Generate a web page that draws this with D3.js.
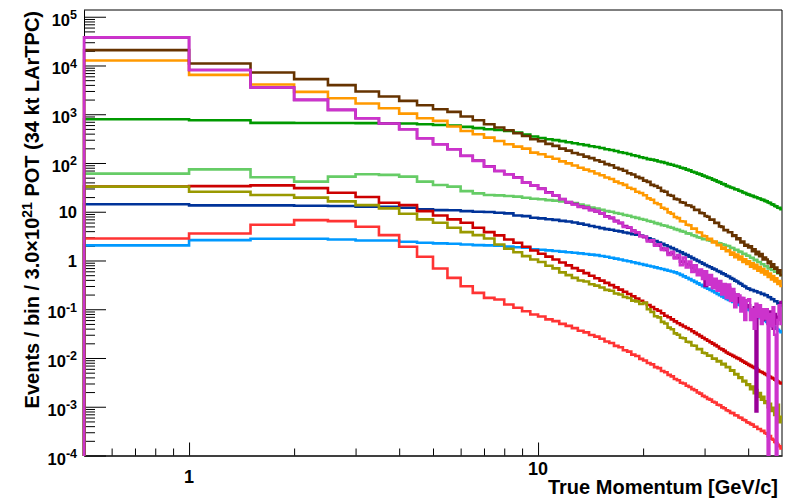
<!DOCTYPE html>
<html>
<head>
<meta charset="utf-8">
<script src="https://cdn.jsdelivr.net/npm/d3@7"></script>
<style>
html,body{margin:0;padding:0;background:#fff;}
svg{display:block;}
text{font-family:"Liberation Sans",Arial,Helvetica,sans-serif;font-weight:bold;fill:#000;}
</style>
</head>
<body>
<svg id="chart" width="786" height="502"></svg>
<script>
// ---- bin edges (True Momentum, GeV/c) ----
const binEdges = [0.5,1,1.5,2,2.5,3,3.5,4,4.5,5,5.5,6,6.5,7,7.5,8,8.5,9,9.5,10,
10.5,11,11.5,12,12.5,13,13.5,14,14.5,15,15.5,16,16.5,17,17.5,18,18.5,19,19.5,20,
20.5,21,21.5,22,22.5,23,23.5,24,24.5,25,25.5,26,26.5,27,27.5,28,28.5,29,29.5,30,
30.5,31,31.5,32,32.5,33,33.5,34,34.5,35,35.5,36,36.5,37,37.5,38,38.5,39,39.5,40,
40.5,41,41.5,42,42.5,43,43.5,44,44.5,45,45.5,46,46.5,47,47.5,48,48.5,49,49.5,50];

// ---- series values (events / bin) ----
const lightBlue = [2.04,2.62,2.79,2.79,2.7,2.58,2.58,2.42,2.31,2.24,2.2,2.13,2.07,2.04,2.0,1.93,1.87,1.83,1.7,
1.66,1.61,1.57,1.52,1.48, 1.44,1.4,1.36,1.32,1.29,
1.24,1.19,1.14,1.09,1.05,1.0,0.962,0.923,0.885,0.848,
0.813,0.782,0.752,0.723,0.695,0.667,0.641,0.617,0.593,0.57,
0.541,0.506,0.473,0.444,0.415,0.388,0.364,0.34,0.318,0.298,
0.28,0.264,0.248,0.234,0.22,0.207,0.195,0.184,0.173,0.163,
0.155,0.148,0.141,0.135,0.129,0.123,0.117,0.112,0.107,0.102,
0.0972,0.0918,0.0867,0.0818,0.0772,0.0729,0.0688,0.065,0.0613,0.0579,
0.0547,0.0519,0.0493,0.0467,0.0443,0.042,0.0399,0.0378,0.0358,0.034];

const lightRed = [2.83,3.59,5.42,6.74,6.43,4.93,3.31,1.91,1.19,0.686,0.44,0.297,0.217,0.171,0.158,0.125,0.107,0.091,0.078,
0.071,0.062,0.057,0.05,0.0455, 0.041,0.0362,0.0336,0.0297,0.0275,
0.0248,0.0218,0.0203,0.0177,0.0166,0.0144,0.0135,0.0117,0.011,0.0096,
0.0089,0.0079,0.0074,0.0065,0.0062,0.0054,0.0051,0.0045,0.0042,0.0037,
0.0035,0.0031,0.003,0.0027,0.00255,0.0023,0.00218,0.00196,0.00186,0.00167,
0.00159,0.00145,0.0014,0.00127,0.00122,0.0011,0.00107,0.00097,0.00093,0.00085,
0.00082,0.00075,0.00074,0.00067,0.00066,0.0006,0.00059,0.00054,0.00053,0.00048,
0.00047,0.00044,0.00043,0.00039,0.00039,0.00035,0.00035,0.00032,0.00032,0.00029,
0.00028,0.00025,0.00025,0.00022,0.00021,0.00019,0.00018,0.000165,0.000155,0.00014];

const darkBlue = [14.2,13.5,13.5,13.3,13.1,12.7,12.7,12.1,11.2,10.8,10.7,10.3,10,9.87,9.55,9.25,8.4,8.15,7.53,
7.3,7.0,6.8,6.5,6.3, 6.0,5.7,5.4,5.1,4.85,
4.62,4.4,4.28,4.07,3.95,3.76,3.65,3.47,3.37,3.22,
3.06,2.86,2.68,2.51,2.34,2.19,2.05,1.92,1.79,1.68,
1.57,1.47,1.37,1.29,1.2,1.12,1.05,0.984,0.92,0.861,
0.81,0.762,0.728,0.68,0.652,0.61,0.585,0.545,0.524,0.488,
0.468,0.435,0.416,0.386,0.37,0.343,0.33,0.304,0.293,0.27,
0.265,0.25,0.249,0.235,0.234,0.22,0.22,0.207,0.207,0.195,
0.194,0.178,0.176,0.161,0.16,0.146,0.146,0.132,0.132,0.121];

const red = [32.7,33.5,34.8,30.5,24.6,20,15.3,13.7,10.3,8.4,6.96,5.96,4.7,3.82,3.27,2.7,2.31,1.91,1.6,
1.38,1.2,1.05,0.912,0.794, 0.698,0.619,0.55,0.488,0.433,
0.386,0.348,0.313,0.281,0.253,0.228,0.205,0.184,0.166,0.149,
0.135,0.122,0.111,0.1,0.093,0.083,0.0735,0.0684,0.0621,0.0564,
0.0516,0.0479,0.0444,0.0411,0.0388,0.0353,0.0327,0.0303,0.0281,0.0261,
0.0243,0.0226,0.0211,0.0197,0.0184,0.0172,0.0157,0.015,0.014,0.013,
0.01226,0.01163,0.01103,0.01046,0.00992,0.0096,0.00892,0.00846,0.00802,0.00761,
0.00724,0.0069,0.00657,0.00626,0.0061,0.00569,0.0053,0.00516,0.00492,0.00469,
0.00447,0.00428,0.0041,0.00392,0.0038,0.00359,0.00344,0.00329,0.00315,0.00302];

const olive = [32.7,25.8,22,19.5,16.3,13.7,11.7,9.1,6.96,5.96,4.7,3.82,3.31,2.83,2.13,1.74,1.48,1.23,1.05,
0.93,0.78,0.69,0.57,0.5, 0.44,0.39,0.37,0.325,0.305,
0.28,0.25,0.24,0.21,0.2,0.178,0.17,0.15,0.145,0.128,
0.135,0.1,0.088,0.072,0.068,0.055,0.051,0.042,0.039,0.032,
0.03,0.026,0.0255,0.0215,0.0212,0.018,0.0178,0.0152,0.0152,0.0128,
0.0125,0.0112,0.0112,0.0097,0.0098,0.0085,0.0087,0.0074,0.0076,0.0065,
0.0065,0.0055,0.0056,0.0046,0.0047,0.0039,0.004,0.0033,0.0034,0.0028,
0.0029,0.0023,0.0026,0.0019,0.0022,0.0016,0.0019,0.0014,0.0016,0.0012,
0.0013,0.00098,0.00115,0.00082,0.00095,0.00068,0.0009,0.0011,0.00048,0.00062];

const lightGreen = [60.5,74,51,41.4,52.5,58.6,57,52.5,41.4,35.3,32.7,26.5,23.8,22,21.7,21,20.4,19.4,18.5,
18.1,17.3,16.9,16.2,15.8, 15.1,14,13.3,12.2,11.6,
11,10.3,10,9.4,9.1,8.6,8.3,7.8,7.5,7.1,
6.85,6.45,6.25,5.85,5.65,5.3,5.15,4.85,4.7,4.4,
4.25,4.0,3.9,3.6,3.55,3.3,3.2,3.0,2.93,2.75,
2.74,2.6,2.56,2.43,2.4,2.28,2.25,2.14,2.11,2.0,
1.98,1.83,1.8,1.66,1.65,1.52,1.5,1.38,1.37,1.26,
1.25,1.14,1.13,1.02,1.03,0.93,0.93,0.84,0.84,0.76,
0.76,0.69,0.7,0.64,0.64,0.59,0.59,0.54,0.55,0.5];

const green = [790,753,665,662,660,658,655,645,625,600,585,550,518,492,476,454,421,385,350,
325,306,295,281,266, 255,242,233,221,213,
203,192,185,176,166,160,153,144,139,131,
127,120,117,113,107,104,100,95,92,88,
85,80,77.5,73,70.5,66,64,60.5,58.5,55,
53,50,48.5,45.5,44,41.5,40,37.5,36.5,34,
33,31.5,30.8,29,28.5,27,26.3,24.8,24.3,23,
22.5,21.5,21.2,20.2,19.9,18.9,18.7,17.7,17.5,16.7,
16.3,15.5,15.2,14.2,14,13.1,12.9,12.1,12,11.3];

const orange = [12700,6430,4070,2870,2130,1660,1330,1030,828,730,560,454,388,332,283,242,217,197,163,
151,134,122,108,98, 89,80,73,67.5,61,
56,50.5,47,41.5,38.5,35.5,31,29.3,25.8,24.2,
21.8,18.8,17.6,15.1,14.2,12.1,11.4,9.7,9.1,7.8,
7.4,6.4,6.3,5.4,5.3,4.5,4.5,3.8,3.75,3.2,
3.15,2.7,2.8,2.35,2.45,2.05,2.1,1.75,1.85,1.55,
1.62,1.32,1.46,1.17,1.32,1.05,1.2,0.93,1.06,0.85,
0.96,0.75,0.88,0.69,0.82,0.62,0.73,0.57,0.67,0.52,
0.6,0.46,0.54,0.41,0.48,0.37,0.43,0.33,0.38,0.3];

const brown = [20700,11000,7200,5250,3950,2930,2310,1880,1530,1270,1120,898,753,624,533,469,407,358,307,
281,247,224,197,179, 160,149,135,126,114,
106,95,90,80,75,69.5,61.5,58,52,49,
43.5,41,35.5,33.8,31,26.8,25.8,22,21.3,18.4,
17.8,15.7,15.3,13.6,13.4,12.5,10.9,10.9,9.5,9.3,
8.2,7.9,6.9,6.9,5.9,5.9,5.0,4.9,4.2,4.2,
3.8,3.8,3.2,3.3,2.75,2.85,2.35,2.45,2.0,2.1,
1.85,1.95,1.55,1.7,1.35,1.5,1.22,1.35,1.05,1.15,
1.05,0.88,0.95,0.75,0.84,0.68,0.72,0.56,0.63,0.5];

const purple = [37700,8100,3540,1970,1230,828,644,492,321,242,191,141,112,86,68.4,58.6,51,39.5,34.8,
29.8,25,21.5,18.3,15.6, 14.3,12.8,12,10.9,10.2,
9.2,8.1,7.4,6.5,5.8,5.1,4.7,4.1,3.7,3.2,
3.0,2.6,2.45,2.1,2.0,1.75,1.65,1.4,1.4,1.15,
1.15,0.95,0.95,0.85,0.8,0.7,0.62,0.6,0.52,0.5,
0.3,0.45,0.42,0.38,0.3,0.33,0.25,0.3,0.22,0.25,
0.28,0.19,0.22,0.16,0.2,0.14,0.17,0.12,0.15,0.11,
0.12,0.1,0.08,0.11,0.0008,0.09,0.07,0.1,0.06,0.08,
0.07,0.05,0.09,0.06,0.04,0.08,0.05,0.07,0.12,0.14];

const magenta = [37700,8100,3540,1970,1230,828,644,492,321,242,191,139,110,84.3,68.4,58.6,50,39.5,34.8,
29.5,24.6,21.8,18,15.8, 14.1,12.6,12.2,10.7,10.4,
9.4,7.9,7.6,6.3,6.0,4.9,4.8,4.0,3.8,3.15,
3.1,2.45,2.6,2.0,2.15,1.65,1.75,1.3,1.5,1.1,
1.3,0.8,1.15,0.72,0.95,0.58,0.8,0.5,0.65,0.42,
0.6,0.32,0.5,0.27,0.42,0.24,0.38,0.2,0.33,0.17,
0.32,0.15,0.26,0.11,0.2,0.19,0.09,0.17,0.06,0.15,
0.16,0.06,0.1,0.04,0.13,0.07,0.12,0.05,0.1,0.065,
0.1,0,0.08,0.045,0.11,0.03,0,0.06,0.12,0.05];

// ---- axis tick values / labels ----
const yDecades = [1e-4,1e-3,1e-2,1e-1,1,10,100,1e3,1e4,1e5];
const xMajorTicks = [1,10];
const xMajorLabels = ["1","10"];
const xMinorTicks = [0.6,0.7,0.8,0.9,2,3,4,5,6,7,8,9,20,30,40];
const xTitle = "True Momentum [GeV/c]";

// draw order (last on top)
const series = [
  {values: lightBlue,  color: "#0099ff"},
  {values: lightRed,   color: "#ff3333"},
  {values: darkBlue,   color: "#003399"},
  {values: red,        color: "#cc0000"},
  {values: olive,      color: "#999900"},
  {values: lightGreen, color: "#66cc66"},
  {values: green,      color: "#009900"},
  {values: orange,     color: "#ff9900"},
  {values: brown,      color: "#663300"},
  {values: purple,     color: "#990099"},
  {values: magenta,    color: "#cc33cc"}
];

const svg = d3.select("#chart");
const L = 84, R = 782, T = 10, B = 455.5;
const x = d3.scaleLog().domain([0.5, 50]).range([L, R]);
const y = d3.scaleLog().domain([1e-4, 1.375e5]).range([B, T]);

svg.append("rect").attr("width",786).attr("height",502).attr("fill","#fff");

svg.append("clipPath").attr("id","plotclip").append("rect")
  .attr("x", L - 1.5).attr("y", T).attr("width", R - L + 1.5).attr("height", B - T + 0.5);

const yMinor = [];
yDecades.forEach(d => { for (let k = 2; k <= 9; k++) { const v = d * k; if (v < y.domain()[1]) yMinor.push(v); } });

const gyMin = svg.append("g").attr("transform", `translate(${L},0)`)
  .call(d3.axisLeft(y).tickValues(yMinor).tickSize(-11).tickSizeOuter(0).tickFormat(() => ""));
const gyMaj = svg.append("g").attr("transform", `translate(${L},0)`)
  .call(d3.axisLeft(y).tickValues(yDecades).tickSize(-22).tickSizeOuter(0).tickFormat(() => ""));
const gxMin = svg.append("g").attr("transform", `translate(0,${B})`)
  .call(d3.axisBottom(x).tickValues(xMinorTicks).tickSize(-7).tickSizeOuter(0).tickFormat(() => ""));
const gxMaj = svg.append("g").attr("transform", `translate(0,${B})`)
  .call(d3.axisBottom(x).tickValues(xMajorTicks).tickSize(-13).tickSizeOuter(0).tickFormat(() => ""));
[gyMin, gyMaj, gxMin, gxMaj].forEach(g => {
  g.selectAll("line").attr("stroke", "#000").attr("stroke-width", 1);
  g.select(".domain").attr("stroke", "#000").attr("stroke-width", 1);
});

svg.append("path")
  .attr("d", `M${L},${T}H${R}V${B}`)
  .attr("fill", "none").attr("stroke", "#000").attr("stroke-width", 1);

const line = d3.line().x(d => d[0]).y(d => d[1]);
const yv = v => y(Math.max(v, 1e-6));
const gh = svg.append("g").attr("clip-path", "url(#plotclip)");
series.forEach(s => {
  const pts = [[x(binEdges[0]), y(1e-6)]];
  s.values.forEach((v, i) => {
    pts.push([x(binEdges[i]), yv(v)]);
    pts.push([x(binEdges[i + 1]), yv(v)]);
  });
  gh.append("path").attr("d", line(pts))
    .attr("fill", "none").attr("stroke", s.color)
    .attr("stroke-width", 2.6).attr("stroke-linejoin", "miter").attr("stroke-linecap", "butt");
});

yDecades.forEach(d => {
  const e = Math.round(Math.log10(d));
  const yy = y(d);
  const t = svg.append("text").attr("x", 77).attr("text-anchor", "end").style("font-size", "16.5px");
  if (e === 0 || e === 1) {
    t.attr("y", yy + 6.5).text(e === 0 ? "1" : "10");
  } else {
    t.attr("y", yy + 9);
    t.append("tspan").text("10");
    t.append("tspan").attr("dy", -6.6).style("font-size", "12.5px").text(String(e));
  }
});

const xLabelBase = [483, 475];
xMajorTicks.forEach((d, i) => {
  svg.append("text").attr("x", x(d)).attr("y", xLabelBase[i])
    .attr("text-anchor", "middle").style("font-size", "18px").text(xMajorLabels[i]);
});

svg.append("text").attr("x", 778).attr("y", 494).attr("text-anchor", "end")
  .style("font-size", "20px").text(xTitle);

const yt = svg.append("text").attr("transform", "translate(39,11) rotate(-90)")
  .attr("text-anchor", "end").style("font-size", "20px");
yt.append("tspan").text("Events / bin / 3.0\u00d710");
yt.append("tspan").attr("dy", -7).style("font-size", "14px").text("21");
yt.append("tspan").attr("dy", 7).text(" POT (34 kt LArTPC)");
</script>
</body>
</html>
